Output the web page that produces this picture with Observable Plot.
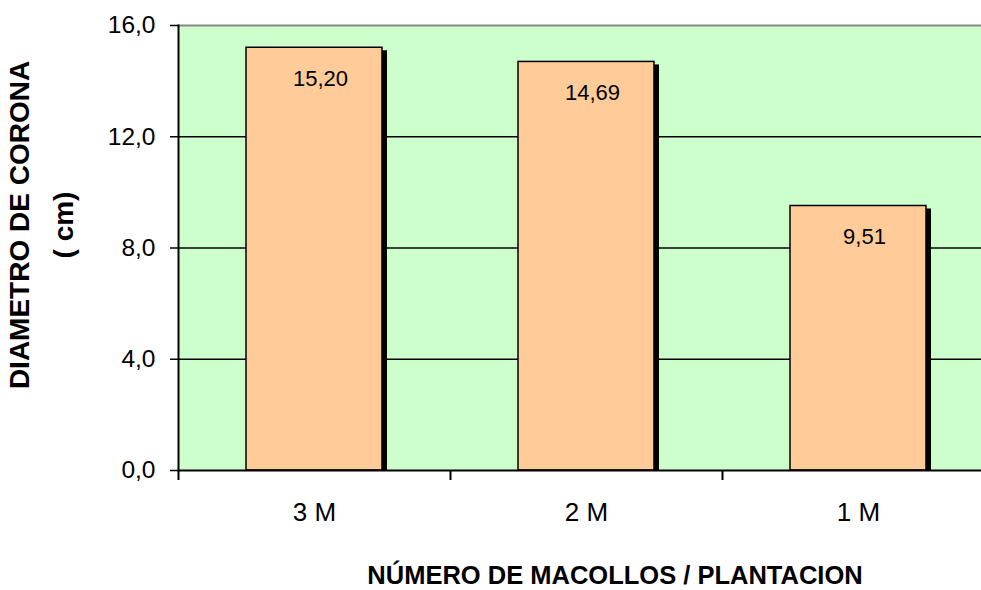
<!DOCTYPE html>
<html>
<head>
<meta charset="utf-8">
<script src="https://cdn.jsdelivr.net/npm/d3@7"></script>
<script src="https://cdn.jsdelivr.net/npm/@observablehq/plot@0.6"></script>
<style>
  html, body { margin: 0; padding: 0; background: #ffffff; }
  #chart svg { display: block; }
</style>
</head>
<body>
<div id="chart"></div>
<script>
// Crown diameter by number of tillers per planting spot
const categories = ["3 M", "2 M", "1 M"];
const diameters = [15.20, 14.69, 9.51];
const yTicks = [0, 4, 8, 12, 16];
const gridValues = [4, 8, 12];
const yTitle = ["DIAMETRO DE CORONA", "( cm)"];
const xTitle = ["NÚMERO DE MACOLLOS / PLANTACION"];

const data = categories.map((c, i) => ({category: c, value: diameters[i]}));

const es = d3.formatLocale({decimal: ",", thousands: ".", grouping: [3], currency: ["", " €"]});
const fmt1 = es.format(".1f");
const fmt2 = es.format(".2f");

const chartW = 981, chartH = 590;
const plotLeft = 178, plotTop = 25, plotBottom = 470;
const xRange = [plotLeft, 994];
const step = (xRange[1] - xRange[0]) / categories.length;
const font = "'Liberation Sans', Arial, Helvetica, sans-serif";

const chart = Plot.plot({
  width: chartW,
  height: chartH,
  marginLeft: plotLeft,
  marginRight: 0,
  marginTop: plotTop,
  marginBottom: chartH - plotBottom,
  style: {background: "#ffffff", fontFamily: font, color: "#000000"},
  x: {type: "band", domain: categories, range: xRange, paddingInner: 0.5, paddingOuter: 0.25, axis: null},
  y: {domain: [0, 16], axis: null},
  marks: [
    Plot.frame({fill: "#ccffcc", stroke: null}),
    Plot.gridY(gridValues, {stroke: "#000000", strokeOpacity: 1, strokeWidth: 1.5}),
    Plot.frame({anchor: "top", stroke: "#888888", strokeWidth: 2}),
    // drop shadow behind each bar
    Plot.rectY(data, {x: "category", y: "value", fill: "#000000", dx: 5, insetTop: 3}),
    Plot.rectY(data, {x: "category", y: "value", fill: "#ffcc99", stroke: "#000000", strokeWidth: 1.5}),
    Plot.text(data, {x: "category", y: "value", text: d => fmt2(d.value), dy: 31, dx: 6,
      lineAnchor: "middle", fontSize: 22, fill: "#000000"}),
    Plot.frame({anchor: "left", stroke: "#000000", strokeWidth: 2}),
    Plot.ruleY([0], {stroke: "#000000", strokeWidth: 2}),
    // category boundary ticks below the baseline
    Plot.ruleX(categories, {x: d => d, y1: 0, y2: 0, dx: -step / 2, insetBottom: -10,
      stroke: "#000000", strokeWidth: 2}),
    Plot.axisY(yTicks, {tickFormat: fmt1, tickSize: 8, tickPadding: 15, fontSize: 24.5,
      strokeWidth: 1.5, label: null}),
    Plot.text(categories, {x: d => d, frameAnchor: "bottom", dy: 42, lineAnchor: "middle",
      fontSize: 26, fill: "#000000"}),
    Plot.text(xTitle, {frameAnchor: "bottom", dx: 35, dy: 105, lineAnchor: "middle",
      fontSize: 25.5, fontWeight: "bold", fill: "#000000"}),
    Plot.text([yTitle[0]], {frameAnchor: "left", rotate: -90, dx: -158, dy: -23,
      lineAnchor: "middle", textAnchor: "middle", fontSize: 28, fontWeight: "bold", fill: "#000000"}),
    Plot.text([yTitle[1]], {frameAnchor: "left", rotate: -90, dx: -114, dy: -23,
      lineAnchor: "middle", textAnchor: "middle", fontSize: 28, fontWeight: "bold", fill: "#000000"})
  ]
});

document.getElementById("chart").appendChild(chart);
</script>
</body>
</html>
